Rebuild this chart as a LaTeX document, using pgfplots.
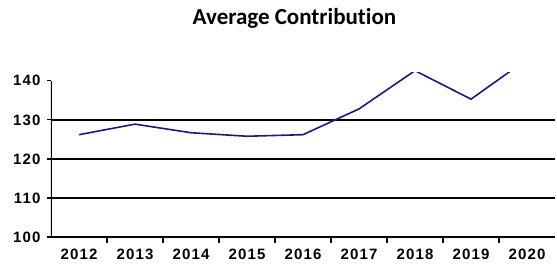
\documentclass[border=0pt]{standalone}
\usepackage{fontspec}
\setmainfont{Liberation Sans}
\newfontfamily\titlefont[Ligatures=NoCommon]{Carlito}
\usepackage{pgfplots}
\pgfplotsset{compat=1.18}
\definecolor{navyline}{RGB}{25,25,135}
\begin{document}
\begin{tikzpicture}
\begin{axis}[
  at={(0,0)}, anchor=south west,
  scale only axis, width=504pt, height=164pt,
  xmin=-0.5, xmax=8.5, ymin=100, ymax=142,
  axis x line*=bottom, axis y line*=left,
  y axis line style={draw=none},
  x axis line style={line width=1.5pt,-},
  xtick={0,...,8},
  xticklabels={2012,2013,2014,2015,2016,2017,2018,2019,2020},
  major x tick style={draw=none},
  minor xtick={0.5,1.5,...,7.5},
  minor x tick style={line width=1.2pt, black},
  minor tick length=6pt,
  ytick={100,110,...,140},
  major y tick style={line width=1.2pt, black},
  major tick length=4pt,
  tick align=outside,
  extra y ticks={110,120,130},
  extra y tick labels={},
  extra y tick style={grid=major, major tick length=0pt},
  grid style={line width=1.5pt, black},
  /pgf/number format/assume math mode=true,
  ticklabel style={font=\fontsize{15}{17}\selectfont\bfseries\addfontfeature{LetterSpace=8}},
  xticklabel style={yshift=-4pt},
  yticklabel style={xshift=-3pt},
  clip=true,
]
\addplot[navyline, line width=1.6pt] coordinates {
 (0,126.2) (1,128.9) (2,126.7) (3,125.8) (4,126.2) (5,132.8) (6,142.6) (7,135.3) (8,145.5)
};
\draw[line width=1.5pt] (axis cs:-0.5,100) -- (axis cs:-0.5,140);
\end{axis}
\node[font=\titlefont\bfseries\fontsize{23}{26}\selectfont] at (243.5pt,219pt) {Average Contribution};
\path[use as bounding box] (-51pt,-35pt) rectangle (506pt,237pt);
\end{tikzpicture}
\end{document}
